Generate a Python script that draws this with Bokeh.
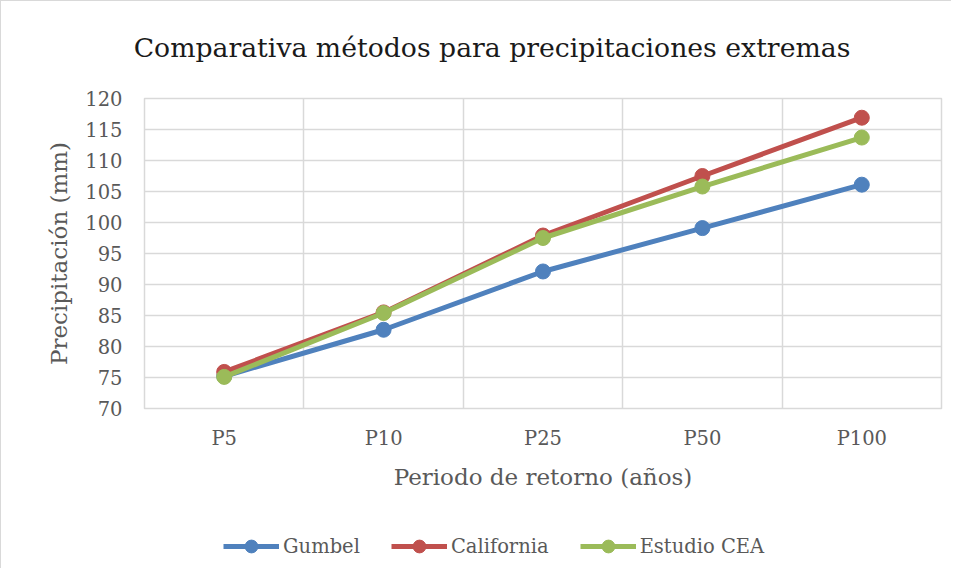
from bokeh.plotting import figure
from bokeh.layouts import column
from bokeh.models import (Legend, LegendItem, FactorRange, Range1d, SingleIntervalTicker,
                          FixedTicker, Grid, Label)
from bokeh.embed import file_html
from bokeh.resources import INLINE

categories = ["P5", "P10", "P25", "P50", "P100"]
gumbel = [75.2, 82.7, 92.1, 99.1, 106.1]
california = [75.9, 85.5, 97.9, 107.5, 116.9]
estudio_cea = [75.1, 85.4, 97.5, 105.8, 113.7]
series_names = ["Gumbel", "California", "Estudio CEA"]
series_colors = ["#4F81BD", "#C0504D", "#9BBB59"]
title_text = "Comparativa métodos para precipitaciones extremas"

FONT = "DejaVu Serif"
GRAY = "#595959"
GRID = "#D9D9D9"
W = 950


def strip(height, x_range):
    f = figure(width=W, height=height, output_backend="svg", toolbar_location=None,
               x_axis_location=None, y_axis_location=None,
               x_range=x_range, y_range=Range1d(0, 1), frame_align=False,
               min_border_left=0, min_border_right=0, min_border_top=0, min_border_bottom=0)
    f.grid.visible = False
    f.outline_line_color = None
    f.background_fill_color = "white"
    f.border_fill_color = "white"
    return f


# title strip
ts = strip(80, Range1d(0, 1))
ts.add_layout(Label(x=490.5, y=34, x_units="screen", y_units="screen", text=title_text,
                    text_align="center", text_baseline="middle", text_font=FONT,
                    text_font_size="26.7px", text_color="#1a1a1a"))

# main chart
p = figure(width=W, height=427, x_range=FactorRange(*categories, range_padding=0),
           y_range=Range1d(70, 120), output_backend="svg", toolbar_location=None,
           frame_align=False,
           min_border_left=143, min_border_right=10, min_border_top=17, min_border_bottom=100)
p.outline_line_color = GRID
p.outline_line_width = 1.5
p.background_fill_color = "white"
p.border_fill_color = "white"

p.yaxis.ticker = SingleIntervalTicker(interval=5)
p.ygrid.grid_line_color = GRID
p.ygrid.grid_line_width = 1.5
p.xgrid.grid_line_color = None
p.add_layout(Grid(dimension=0, ticker=FixedTicker(ticks=[1, 2, 3, 4]),
                  grid_line_color=GRID, grid_line_width=1.5))

for ax in (p.xaxis, p.yaxis):
    ax.axis_line_color = None
    ax.major_tick_line_color = None
    ax.minor_tick_line_color = None
    ax.major_label_text_font = FONT
    ax.major_label_text_color = GRAY
    ax.major_label_text_font_size = "19.5px"
    ax.axis_label_text_font = FONT
    ax.axis_label_text_color = GRAY
    ax.axis_label_text_font_size = "23px"
    ax.axis_label_text_font_style = "normal"

p.xaxis.axis_label = "Periodo de retorno (años)"
p.yaxis.axis_label = "Precipitación (mm)"
p.xaxis.major_label_standoff = 12
p.yaxis.major_label_standoff = 16
p.xaxis.axis_label_standoff = 11
p.yaxis.axis_label_standoff = 10

series = [gumbel, california, estudio_cea]
for name, vals, col in zip(series_names, series, series_colors):
    p.line(categories, vals, line_color=col, line_width=5)
    p.scatter(categories, vals, size=15, fill_color=col, line_color=col)

# legend strip (its renderers use the same data, but lie outside this strip's range)
lg = strip(60, FactorRange(*categories, range_padding=0))
items = []
for name, vals, col in zip(series_names, series, series_colors):
    l = lg.line(categories, vals, line_color=col, line_width=5)
    c = lg.scatter(categories, vals, size=15, fill_color=col, line_color=col)
    items.append(LegendItem(label=name, renderers=[l, c]))
legend = Legend(items=items, orientation="horizontal", location=(222, 6),
                glyph_width=56, glyph_height=32, label_standoff=4, spacing=31,
                label_text_font=FONT, label_text_font_size="19.5px", label_text_color=GRAY,
                border_line_color=None, background_fill_alpha=0, padding=0, margin=0)
lg.add_layout(legend, "center")

layout = column(ts, p, lg, spacing=0)
layout.styles = {"border-top": "1px solid #D9D9D9", "border-left": "1px solid #D9D9D9"}

open("out.html", "w").write(file_html(layout, INLINE))
